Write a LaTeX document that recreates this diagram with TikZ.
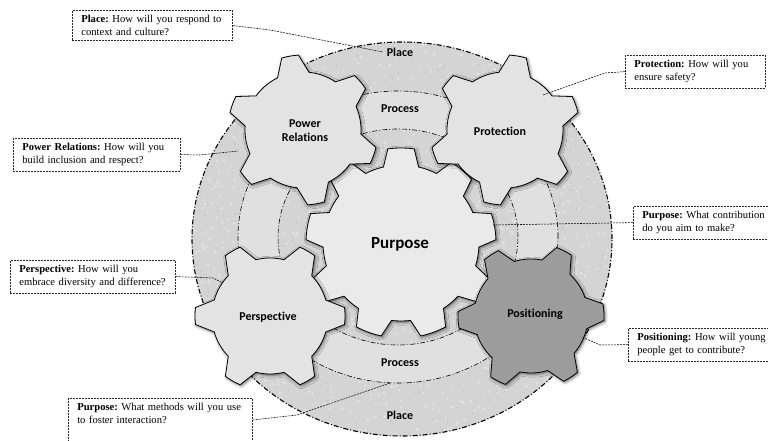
\documentclass[tikz,border=0pt]{standalone}
\usepackage{fontspec}
\setmainfont{Liberation Serif}
\newfontfamily\gearfont[Ligatures=NoCommon]{Carlito}
\usetikzlibrary{shadows.blur}
\frenchspacing
\definecolor{placefill}{HTML}{D4D4D4}
\definecolor{speckL}{HTML}{E4E4E4}
\definecolor{speckD}{HTML}{C2C2C2}
\definecolor{procfill}{HTML}{E0E0E0}
\definecolor{gearfill}{HTML}{E3E3E3}
\definecolor{purposefill}{HTML}{EAEAEA}
\definecolor{posfill}{HTML}{9C9C9C}
% #1 style, #2 centre, #3 teeth, #4 outer r, #5 root r, #6 rotation, #7 tip half-angle, #8 base half-angle
\newcommand{\mygear}[8]{%
\begin{scope}[shift={#2}]
\pgfmathsetmacro{\gst}{360/#3}
\pgfmathtruncatemacro{\gnm}{#3-1}
\path[#1] ({#6-#8}:#5) \foreach \i in {0,...,\gnm}{
 -- ({#6+\i*\gst-#7}:#4) arc[start angle={#6+\i*\gst-#7}, end angle={#6+\i*\gst+#7}, radius=#4]
 -- ({#6+\i*\gst+#8}:#5) arc[start angle={#6+\i*\gst+#8}, end angle={#6+(\i+1)*\gst-#8}, radius=#5]
} -- cycle;
\end{scope}}
\tikzset{
  gearstyle/.style={fill=#1, draw=black, line width=0.8pt, line join=miter,
    blur shadow={shadow xshift=1.2pt, shadow yshift=-1.2pt, shadow blur radius=3pt, shadow opacity=60}},
  gearlabel/.style={font=\gearfont\bfseries\fontsize{12}{14}\selectfont, align=center},
  callout/.style={draw=black!85, dash pattern=on 2pt off 1pt, line width=0.6pt, fill=white,
    anchor=north west, align=left, inner xsep=9pt, inner ysep=5pt, font=\fontsize{10.6}{13}\selectfont},
  leader/.style={draw=black, dash pattern=on 2pt off 1pt, line width=0.55pt},
  dashdot/.style={dash pattern=on 5pt off 2pt on 1pt off 2pt}
}
\begin{document}
\begin{tikzpicture}[x=1pt, y=1pt]
\useasboundingbox (0,0) rectangle (768,441);
% Place (outer disc) with speckled texture
\fill[placefill] (402,202) ellipse[x radius=210, y radius=197];
\begin{scope}
\clip (402,202) ellipse[x radius=210, y radius=197];
\pgfmathsetseed{11}
\foreach \k in {1,...,1400}{\fill[speckL] ({192+420*rnd},{5+394*rnd}) circle[radius=1.3];}
\foreach \k in {1,...,900}{\fill[speckD] ({192+420*rnd},{5+394*rnd}) circle[radius=0.8];}
\end{scope}
\draw[dashdot, line width=1.1pt] (402,202) ellipse[x radius=210, y radius=197];
% Process ring
\fill[procfill, even odd rule] (398,204) ellipse[x radius=160, y radius=146]
   (398,204) ellipse[x radius=120, y radius=108];
\draw[dashdot, line width=0.6pt] (398,204) ellipse[x radius=160, y radius=146];
\draw[dashdot, line width=0.6pt] (398,204) ellipse[x radius=120, y radius=108];
% gears
\mygear{gearstyle=purposefill}{(401,198)}{9}{95}{78}{90}{8}{13}
\mygear{gearstyle=gearfill}{(303,311)}{6}{75}{58}{40}{6.5}{16}
\mygear{gearstyle=gearfill}{(505,311)}{6}{75}{58}{20}{6.5}{16}
\mygear{gearstyle=gearfill}{(270,125)}{6}{75}{58}{0}{6.5}{16}
\mygear{gearstyle=posfill}{(531,125)}{6}{73}{57}{3}{6.5}{16}
% labels
\node[gearlabel] (placeT) at (400,389) {Place};
\node[gearlabel] (placeB) at (400,26) {Place};
\node[gearlabel] (procT) at (400,332) {Process};
\node[gearlabel] (procB) at (400,78) {Process};
\node[gearlabel] (powrel) at (305,310) {Power\\Relations};
\node[gearlabel] (protect) at (500,310) {Protection};
\node[gearlabel] (persp) at (268,124) {Perspective};
\node[gearlabel] (posit) at (535,127) {Positioning};
\node[font=\gearfont\bfseries\fontsize{17}{19}\selectfont] (purpose) at (400,197) {Purpose};
% callouts
\node[callout, text width=142] (boxPlace) at (72,431)
  {\mbox{\textbf{Place:} How will you respond to}\\\mbox{context and culture?}};
\node[callout, text width=122] (boxProt) at (625,386)
  {\mbox{\textbf{Protection:} How will you}\\\mbox{ensure safety?}};
\node[callout, text width=149] (boxPow) at (13,303)
  {\mbox{\textbf{Power Relations:} How will you}\\\mbox{build inclusion and respect?}};
\node[callout, text width=132] (boxPurp) at (633,235)
  {\mbox{\textbf{Purpose:} What contribution}\\\mbox{do you aim to make?}};
\node[callout, text width=147] (boxPers) at (10,181)
  {\mbox{\textbf{Perspective:} How will you}\\\mbox{embrace diversity and difference?}};
\node[callout, text width=132] (boxPos) at (628,113)
  {\mbox{\textbf{Positioning:} How will young}\\\mbox{people get to contribute?}};
\node[callout, text width=166] (boxProc) at (68,43)
  {\mbox{\textbf{Purpose:} What methods will you use}\\\mbox{to foster interaction?}\\\mbox{}};
% leader coordinates
\coordinate (lp1) at (270,411);
\coordinate (lp2) at (383,389);
\coordinate (lr1) at (605,368);
\coordinate (lr2) at (543,346);
\coordinate (lw1) at (200,286);
\coordinate (lw2) at (238,290);
\coordinate (lu2) at (493,216);
\coordinate (ls1) at (213,163);
\coordinate (ls2) at (223,158);
\coordinate (lo1) at (600,96);
\coordinate (lo2) at (582,104);
\coordinate (lc0) at ([yshift=-22pt]boxProc.north east);
\coordinate (lc1) at (297,26);
\coordinate (lc2) at (390,58);
\draw[leader] (boxPlace.east) -- (lp1) -- (lp2);
\draw[leader] (boxProt.west) -- (lr1) -- (lr2);
\draw[leader] (boxPow.east) -- (lw1) -- (lw2);
\draw[leader] (boxPurp.west) -- (lu2);
\draw[leader] (boxPers.east) -- (ls1) -- (ls2);
\draw[leader] (boxPos.west) -- (lo1) -- (lo2);
\draw[leader] (lc0) -- (lc1) -- (lc2);
\end{tikzpicture}
\end{document}
